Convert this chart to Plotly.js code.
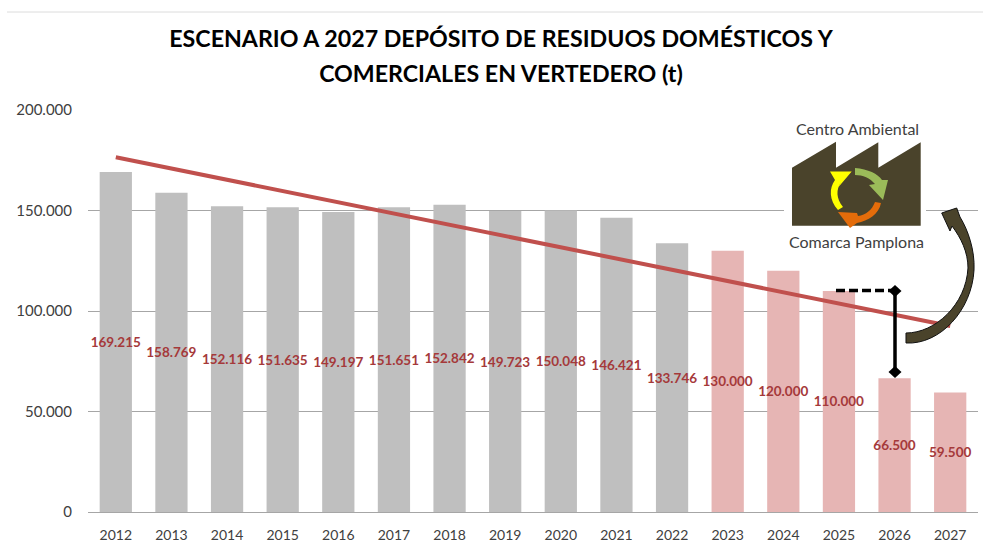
<!DOCTYPE html>
<html>
<head>
<meta charset="utf-8">
<script src="https://cdn.plot.ly/plotly-3.0.1.min.js"></script>
<style>html,body{margin:0;padding:0;background:#fff}#chart{width:983px;height:547px}</style>
</head>
<body>
<div id="chart"></div>
<script>
const titleLines = ["ESCENARIO A 2027 DEPÓSITO DE RESIDUOS DOMÉSTICOS Y", "COMERCIALES EN VERTEDERO (t)"];
const years = ["2012","2013","2014","2015","2016","2017","2018","2019","2020","2021","2022","2023","2024","2025","2026","2027"];
const deposit = [169215,158769,152116,151635,149197,151651,152842,149723,150048,146421,133746,130000,120000,110000,66500,59500];
const barColors = ["#bfbfbf","#bfbfbf","#bfbfbf","#bfbfbf","#bfbfbf","#bfbfbf","#bfbfbf","#bfbfbf","#bfbfbf","#bfbfbf","#bfbfbf","#e6b5b4","#e6b5b4","#e6b5b4","#e6b5b4","#e6b5b4"];
const trendYears = ["2012","2027"];
const trendValues = [176500,92500];

const W = 983, H = 547;
const m = {l:88, r:5, t:110, b:35};
const font = "Lato, Carlito, 'Open Sans', sans-serif";
// pixel -> paper helpers for the decorative logo and annotations
const fx = x => (x - m.l) / (W - m.l - m.r);
const fy = y => (H - m.b - y) / (H - m.t - m.b);
const pth = pts => pts.replace(/(-?[\d.]+),(-?[\d.]+)/g, (s,a,b) => fx(+a).toFixed(5)+","+fy(+b).toFixed(5));
const pshape = (d, fill, line, lw) => ({type:"path", xref:"paper", yref:"paper", layer:"above", path:pth(d), fillcolor:fill, line:{color:line||fill, width:lw===undefined?0:lw}});

const shapes = [
  {type:"line", xref:"paper", yref:"paper", x0:fx(7), x1:fx(983), y0:fy(12), y1:fy(12), line:{color:"#dcdcdc", width:1}},
  {type:"rect", xref:"paper", yref:"paper", layer:"above", x0:fx(784), x1:fx(926), y0:fy(200), y1:fy(222), fillcolor:"#fff", line:{width:0}},
  pshape("M792,167.7 L836,141.7 L836,167.7 L878.3,142.3 L878.3,167.7 L920.7,142.3 L920.7,225.7 L792,225.7 Z", "#4a432b"),
  // yellow
  pshape("M838,210 C829,200 829,188 835,180 L830,171.5 L851.7,171.5 L838.5,187 L841,182 C836,190 836,198 843,207 Z", "#ffff00"),
  // green
  pshape("M855,168 C868,169 878,174 882,180 L888,180 L883,200 L869,185 L875,184 C870,178 863,175 855,175 Z", "#9bbb59"),
  // orange
  pshape("M881,203 C879,214 868,221 857,223 L850,228 L838,212 L857,213 L858,216 C866,215 872,210 875,202 Z", "#e46c0a"),
  // black bracket
  {type:"line", xref:"paper", yref:"paper", layer:"above", x0:fx(836), x1:fx(895), y0:fy(290.5), y1:fy(290.5), line:{color:"#000", width:3.5, dash:"9px 4px"}},
  {type:"line", xref:"paper", yref:"paper", layer:"above", x0:fx(895), x1:fx(895), y0:fy(291), y1:fy(372), line:{color:"#000", width:3.5}},
  pshape("M895,285 L901.5,291 L895,297 L888.5,291 Z", "#000"),
  pshape("M895,366 L901.5,372 L895,378 L888.5,372 Z", "#000"),
  // curved arrow
  pshape("M906,333 C935,333 966,305 968,268 C968,252 961,238 952,226 L950,231 L941.7,213 L956.7,208 L960,217 C968,230 975,250 974,270 C972,310 940,345 906,343 Z", "#4a432b", "#111", 1)
];

const annotations = [
  {text:"Centro Ambiental", xref:"paper", yref:"paper", x:fx(857), y:fy(128), xanchor:"center", yanchor:"middle", showarrow:false, font:{family:font, size:16, color:"#404040"}},
  {text:"Comarca Pamplona", xref:"paper", yref:"paper", x:fx(856), y:fy(242), xanchor:"center", yanchor:"middle", showarrow:false, font:{family:font, size:16, color:"#404040"}}
];

const traces = [
  {type:"bar", x:years, y:deposit, marker:{color:barColors, line:{width:0}},
   texttemplate:"%{y:,d}", textposition:"inside", insidetextanchor:"middle", textangle:0, constraintext:"none",
   insidetextfont:{family:font, size:13.5, color:"#a5393a", weight:700}, hoverinfo:"x+y"},
  {type:"scatter", mode:"lines", x:trendYears, y:trendValues, line:{color:"#c0504d", width:4}, hoverinfo:"skip"}
];

const layout = {
  width:W, height:H, margin:m, showlegend:false, separators:",.",
  paper_bgcolor:"#fff", plot_bgcolor:"#fff", bargap:0.42,
  font:{family:font, color:"#404040"},
  title:{text:titleLines.map(s=>'<span style="font-size:23.2px">'+s+'</span>').join("<br>"),
         xref:"container", yref:"container", x:501/W, xanchor:"center", y:1-47/H, yanchor:"top",
         font:{family:font, size:27, color:"#000", weight:700}},
  xaxis:{type:"category", categoryorder:"array", categoryarray:years, showgrid:false, zeroline:false,
         showline:false, ticks:"outside", ticklen:10, tickcolor:"rgba(0,0,0,0)", tickfont:{family:font, size:14, color:"#404040"}},
  yaxis:{range:[0,200000], tickvals:[0,50000,100000,150000,200000], tickformat:",d",
         showgrid:true, gridcolor:"#a6a6a6", gridwidth:1, zeroline:true, zerolinecolor:"#a6a6a6", zerolinewidth:1, showline:false,
         ticks:"outside", ticklen:12, tickcolor:"rgba(0,0,0,0)", tickfont:{family:font, size:15, color:"#404040"}},
  shapes, annotations
};
Plotly.newPlot("chart", traces, layout, {displayModeBar:false, responsive:false});
</script>
</body>
</html>
